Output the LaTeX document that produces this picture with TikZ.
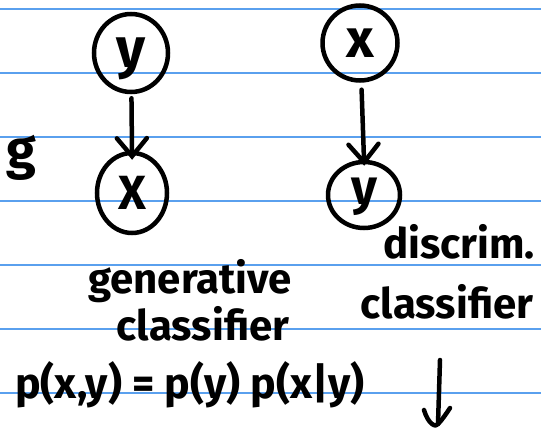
\documentclass[tikz,border=0pt]{standalone}
\usepackage{fontspec}
\setmainfont{Fira Sans}
\usetikzlibrary{arrows.meta,shapes.geometric}
\definecolor{ruleblue}{HTML}{5AA0EE}
\begin{document}
\begin{tikzpicture}[x=1pt,y=-1pt,
  rule/.style={draw=ruleblue,line width=2pt},
  var/.style={ellipse,draw,line width=4.5pt,inner sep=0pt},
  edge/.style={line width=4.5pt,line cap=round,
    -{Straight Barb[length=18pt,width=30pt,line cap=round]}},
  hand/.style={font=\bfseries\fontsize{42}{42}\selectfont,inner sep=0pt},
  ink/.style={line width=4.5pt,line cap=round,line join=round}]
\useasboundingbox (0,0) rectangle (541,431);
\fill[white] (0,0) rectangle (541,431);
\clip (0,0) rectangle (541,431);

% ruled paper
\foreach \yy in {9,73,137,201,265,329,393}
  \draw[rule] (0,\yy) -- (541,\yy);

% left model: y -> x
\node[var,minimum width=74pt,minimum height=78pt,
      font=\bfseries\fontsize{56}{56}\selectfont] (gy) at (131,53) {\raisebox{-14pt}[0pt][0pt]{y}};
\node[var,minimum width=70pt,minimum height=80pt,
      font=\bfseries\fontsize{48}{48}\selectfont] (gx) at (132,193) {X};
\draw[edge,shorten <=4pt,shorten >=-9pt] (gy) -- (gx.north);

% right model: x -> y
\node[var,minimum width=75pt,minimum height=75pt,
      font=\bfseries\fontsize{54}{54}\selectfont] (dx) at (360,43) {x};
\node[var,minimum width=72pt,minimum height=66pt,
      font=\bfseries\fontsize{50}{50}\selectfont] (dy) at (364,195) {\raisebox{-9pt}[0pt][0pt]{y}};
\draw[edge,shorten <=7pt,shorten >=-6pt] (dx) -- (dy.north);

% margin text
\node[hand,anchor=base west,font=\bfseries\fontsize{54}{54}\selectfont] (ng) at (6,168) {g};

% labels
\node[hand,anchor=base] (gen1) at (190,293) {generative};
\node[hand,anchor=base] (gen2) at (203,340) {classifier};
\node[hand,anchor=base] (dis1) at (459,258) {discrim.};
\node[hand,anchor=base] (dis2) at (447,318) {classifier};

% factorisation
\node[hand,anchor=base west,font=\bfseries\fontsize{43}{43}\selectfont]
  (fac) at (15,398) {p(x,y) = p(y) p(x|y)};

% down arrow
\coordinate (dtop) at (440,360);
\coordinate (dbot) at (438,424);
\draw[ink] (dtop) -- (dbot);
\draw[ink] (424,410) .. controls (428,424) and (436,428) .. (dbot)
  .. controls (442,420) and (446,414) .. (450,408);
\end{tikzpicture}
\end{document}
